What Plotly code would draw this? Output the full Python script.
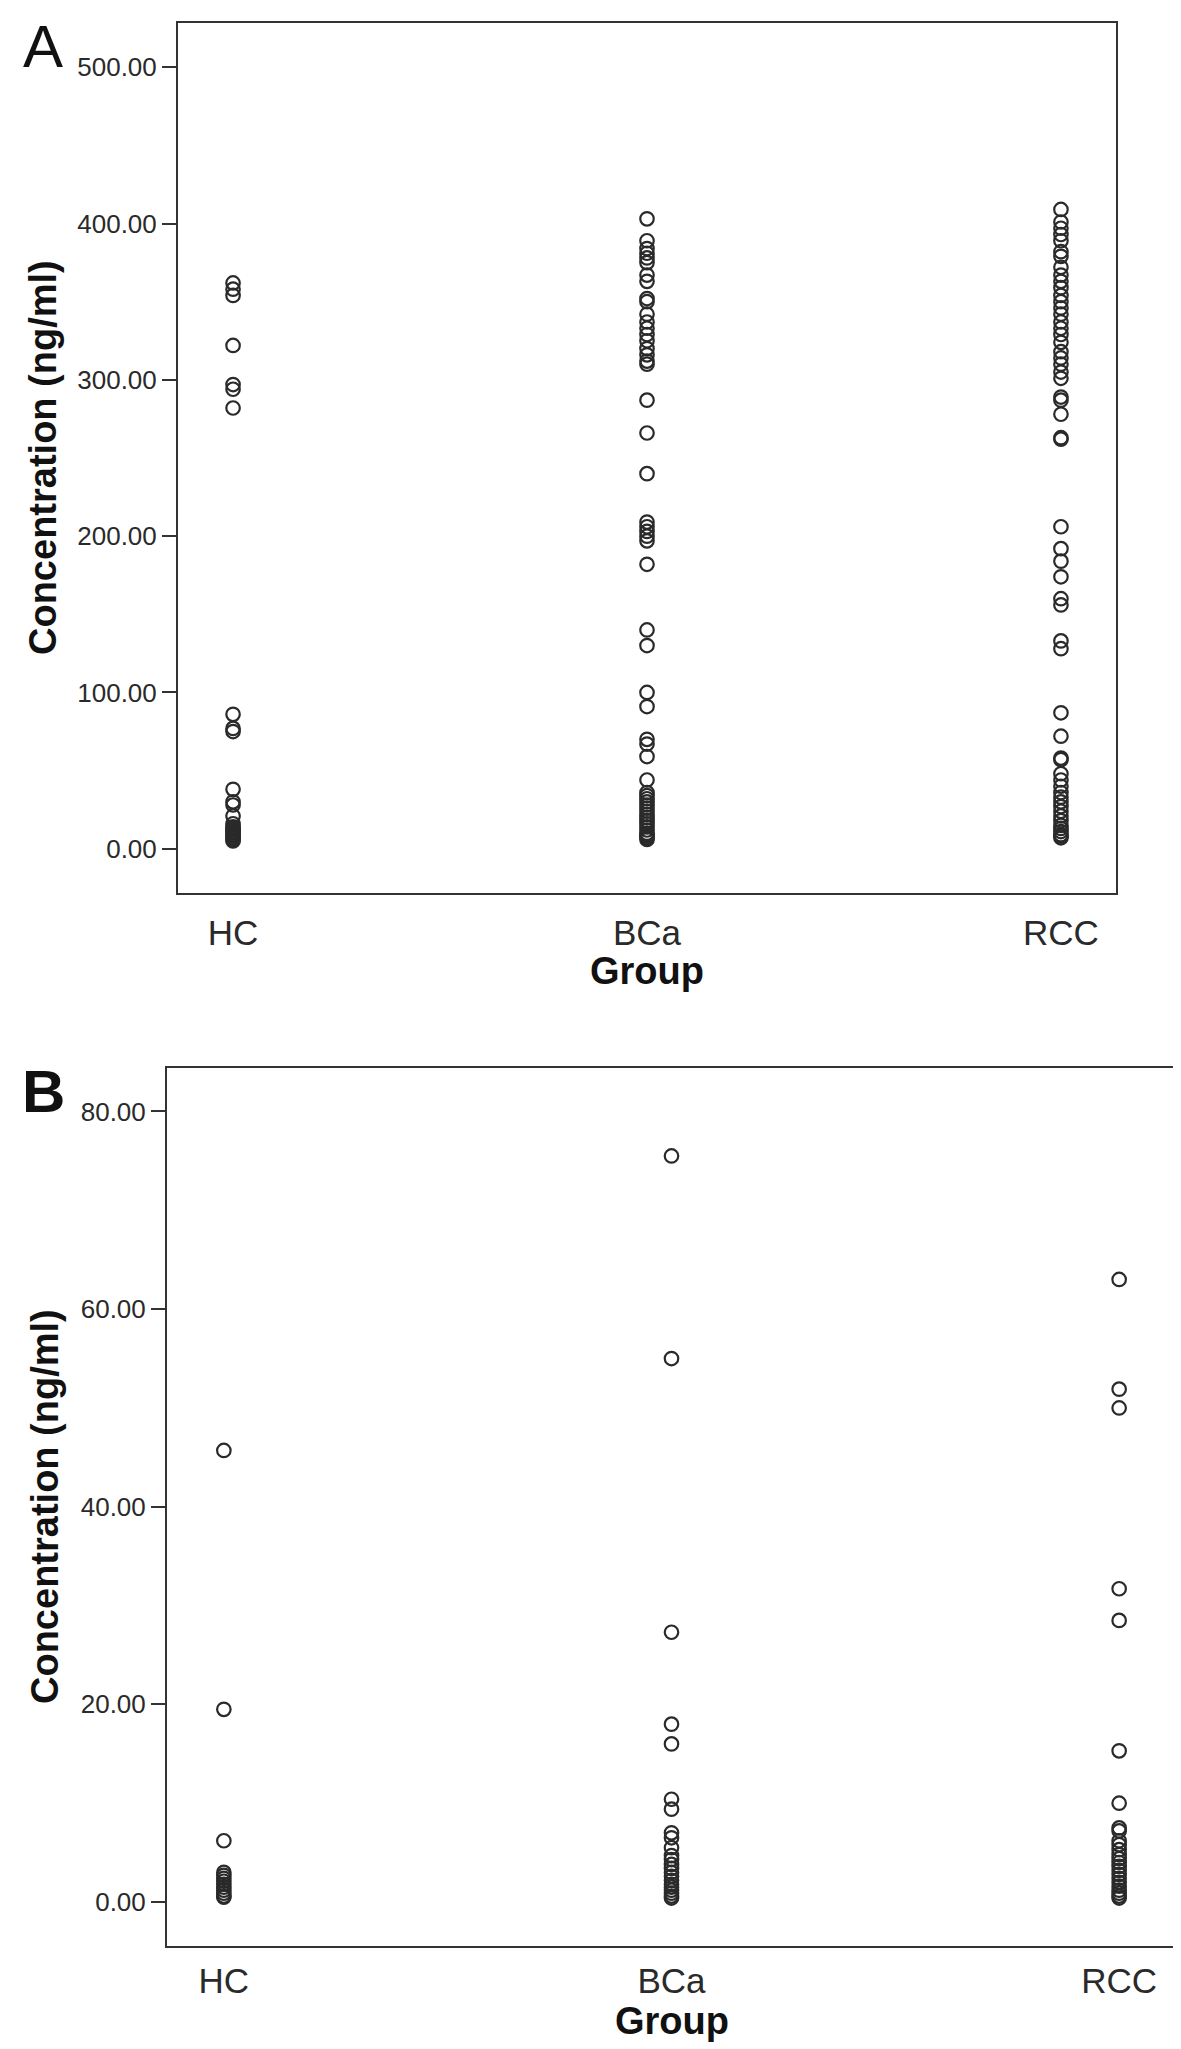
import plotly.graph_objects as go

W, H = 1181, 2049

groups = ["HC", "BCa", "RCC"]

# panel A values (ng/ml)
hc_a = [362, 358, 354, 322, 297, 294, 282, 86, 77, 75, 38, 30, 28, 21,
        16, 14, 13, 12, 11, 10, 9, 8, 7, 6, 5]
bca_a = [403, 389, 384, 381, 378, 375, 367, 363, 352, 350, 342, 337, 333,
         329, 325, 320, 316, 312, 310, 287, 266, 240, 209, 206, 203, 200,
         197, 182, 140, 130, 100, 91, 70, 67, 59, 44, 36, 34, 32, 30, 28,
         26, 24, 22, 20, 18, 16, 14, 12, 10, 9, 8, 7, 6]
rcc_a = [409, 401, 397, 393, 389, 382, 379, 372, 367, 363, 359, 354, 350,
         346, 342, 337, 333, 329, 324, 318, 314, 310, 305, 301, 289, 287,
         278, 263, 262, 206, 192, 184, 174, 160, 156, 133, 128, 87, 72, 58,
         57, 48, 44, 40, 36, 33, 30, 27, 24, 21, 18, 15, 13, 11, 9, 8, 7]

# panel B values (ng/ml)
hc_b = [45.7, 19.5, 6.2, 3.0, 2.7, 2.4, 2.1, 1.8, 1.5, 1.2, 0.9, 0.6, 0.5]
bca_b = [75.5, 55.0, 27.3, 18.0, 16.0, 10.4, 9.4, 7.0, 6.5, 5.5, 4.7, 4.3,
         3.8, 3.4, 3.0, 2.6, 2.2, 1.8, 1.5, 1.2, 0.9, 0.6, 0.4]
rcc_b = [63.0, 51.9, 50.0, 31.7, 28.5, 15.3, 10.0, 7.5, 7.2, 6.2, 5.8, 5.3,
         4.8, 4.4, 4.0, 3.6, 3.2, 2.8, 2.4, 2.0, 1.6, 1.2, 0.9, 0.6, 0.4]

ticks_a = [0, 100, 200, 300, 400, 500]
ticks_b = [0, 20, 40, 60, 80]

FONT = "Liberation Sans, Arial, Helvetica, sans-serif"
INK = "#2a2a2a"

fig = go.Figure()


def add_panel(fig, series, xa, ya):
    for g, vals in zip(groups, series):
        fig.add_trace(go.Scatter(
            x=[g] * len(vals), y=vals, mode="markers",
            xaxis=xa, yaxis=ya, showlegend=False,
            marker=dict(symbol="circle-open", size=13.5, color=INK,
                        line=dict(width=2.2, color=INK)),
        ))


add_panel(fig, [hc_a, bca_a, rcc_a], "x", "y")
add_panel(fig, [hc_b, bca_b, rcc_b], "x2", "y2")


def px_x(p):
    return p / W


def px_y(p):
    return 1 - p / H


frame = dict(showline=True, linecolor="#333333", linewidth=2, mirror=True,
             showgrid=False, zeroline=False, automargin=False)

xcommon = dict(frame, type="category", categoryorder="array",
               categoryarray=groups, ticks="",
               tickfont=dict(family=FONT, size=35, color=INK))
ycommon = dict(frame, ticks="outside", ticklen=14, tickwidth=2,
               tickcolor="#333333", tickformat=".2f",
               tickfont=dict(family=FONT, size=26, color=INK))

fig.update_layout(
    width=W, height=H,
    margin=dict(l=0, r=0, t=0, b=0),
    paper_bgcolor="white", plot_bgcolor="white",
    xaxis=dict(xcommon, domain=[px_x(170), px_x(1108)], anchor="y",
               range=[-0.133, 2.133], ticklabelstandoff=8),
    yaxis=dict(ycommon, domain=[px_y(885), px_y(15)], anchor="x",
               range=[-28.3, 528.3], tickvals=ticks_a),
    xaxis2=dict(xcommon, domain=[px_x(159), px_x(1168)], anchor="y2",
                range=[-0.127, 2.127], ticklabelstandoff=3),
    yaxis2=dict(ycommon, domain=[px_y(1938), px_y(1060)], anchor="x2",
                range=[-4.45, 84.4], tickvals=ticks_b),
)

title_font = dict(family=FONT, size=38, color="#111111")
letter_font = "Liberation Sans Narrow, Arial Narrow, Liberation Sans, sans-serif"


def note(text, x, y, xref="paper", **kw):
    return dict(text=text, x=x, y=y, xref=xref, yref="paper",
                xanchor="center", yanchor="middle", showarrow=False, **kw)


annotations = [
    # y titles
    note("<b>Concentration (ng/ml)</b>", px_x(35), px_y(450),
         textangle=-90, font=title_font),
    note("<b>Concentration (ng/ml)</b>", px_x(37), px_y(1499),
         textangle=-90, font=title_font),
    # x titles
    note("<b>Group</b>", "BCa", px_y(963), xref="x", font=title_font),
    note("<b>Group</b>", "BCa", px_y(2013), xref="x2", font=title_font),
    # panel letters
    note("A", px_x(35), px_y(38),
         font=dict(family=letter_font, size=60, color="#111111")),
    note("<b>B</b>", px_x(35), px_y(1083),
         font=dict(family=letter_font, size=60, color="#111111")),
]
fig.update_layout(annotations=annotations)

fig.write_html("out.html")
